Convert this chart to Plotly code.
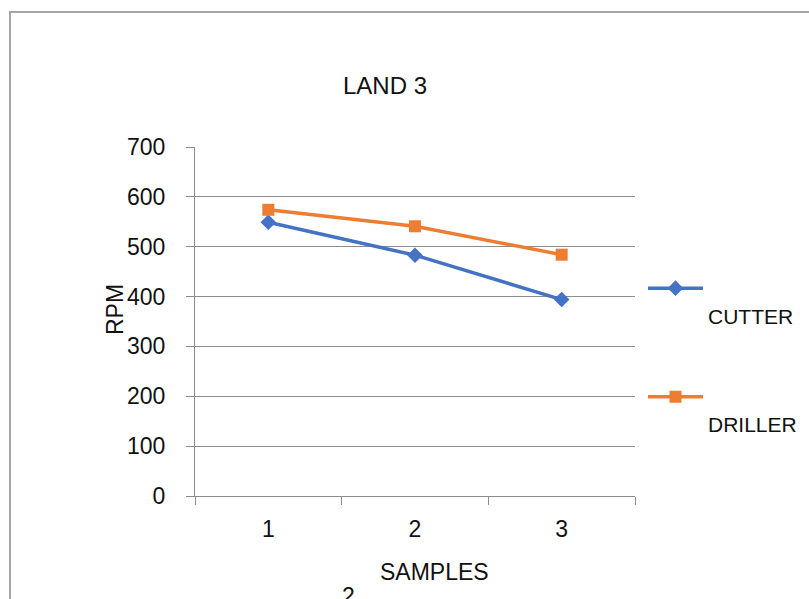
import plotly.graph_objects as go

samples = ["1", "2", "3"]
cutter = [549, 483, 394]
driller = [574, 541, 484]
y_ticks = [0, 100, 200, 300, 400, 500, 600, 700]

FONT = "Liberation Sans, Arial, sans-serif"
GRID = "#8c8c8c"

fig = go.Figure()
fig.add_trace(go.Scatter(
    x=samples, y=cutter, name="<br>CUTTER", mode="lines+markers",
    line=dict(color="#4472C4", width=3.5),
    marker=dict(symbol="diamond", size=12, color="#4472C4"),
    legendgroup="a",
))
fig.add_trace(go.Scatter(
    x=samples, y=driller, name="<br>DRILLER", mode="lines+markers",
    line=dict(color="#ED7D31", width=3.5),
    marker=dict(symbol="square", size=12, color="#ED7D31"),
    legendgroup="b",
))

W, H = 809, 599
L, R, T, B = 195, 635, 147, 496
pw, ph = R - L, B - T

def px(x):
    return (x - L) / pw

def py(y):
    return (B - y) / ph

def note(text, x, y, size=23, angle=0):
    return dict(text=text, textangle=angle, x=px(x), y=py(y), xref="paper",
                yref="paper", xanchor="center", yanchor="middle",
                showarrow=False, font=dict(size=size))

fig.update_layout(
    width=W, height=H,
    margin=dict(l=L, r=W - R, t=T, b=H - B, autoexpand=False),
    paper_bgcolor="white", plot_bgcolor="white",
    font=dict(family=FONT, size=23, color="#111111"),
    title=dict(text="LAND 3", x=px(385), xanchor="center", xref="paper",
               y=1 - 86 / H, yanchor="middle", font=dict(size=24)),
    showlegend=True,
    legend=dict(x=px(643), xanchor="left", y=py(268), yanchor="top",
                valign="top", itemwidth=55, tracegroupgap=51,
                font=dict(size=21), bgcolor="rgba(0,0,0,0)"),
    xaxis=dict(type="category", range=[-0.5, 2.5], tickson="boundaries",
               ticks="outside", ticklen=8, tickcolor=GRID, showline=True,
               linecolor=GRID, linewidth=1, showgrid=False, zeroline=False,
               ticklabelstandoff=12, tickfont=dict(size=23)),
    yaxis=dict(range=[0, 700], tickvals=y_ticks, ticks="outside", ticklen=8,
               tickcolor=GRID, showline=True, linecolor=GRID, linewidth=1,
               showgrid=True, gridcolor=GRID, gridwidth=1, zeroline=False,
               ticklabelstandoff=16, tickfont=dict(size=23)),
    annotations=[
        note("RPM", 115, 310, 23, -90),
        note("SAMPLES", 434, 572, 23),
        note("2", 348, 596, 23),
    ],
    shapes=[
        dict(type="rect", xref="paper", yref="paper", x0=px(10), y0=-2,
             x1=3, y1=py(12), line=dict(color="#a6a6a6", width=2),
             fillcolor="rgba(0,0,0,0)", layer="below"),
    ],
)

fig.write_html("out.html")
